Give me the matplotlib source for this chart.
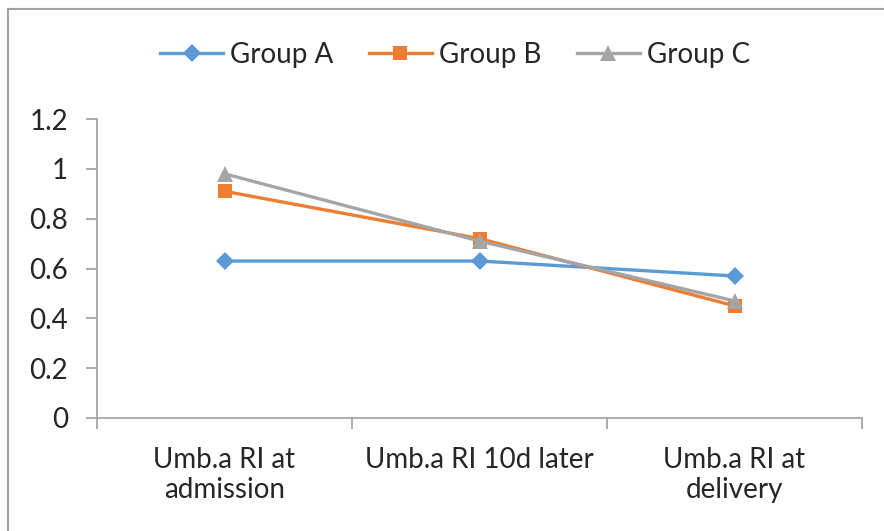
import matplotlib
matplotlib.use("Agg")
import matplotlib.pyplot as plt
from matplotlib.lines import Line2D

categories = ["Umb.a RI at\nadmission", "Umb.a RI 10d later", "Umb.a RI at\ndelivery"]
group_a = [0.63, 0.63, 0.57]
group_b = [0.91, 0.72, 0.45]
group_c = [0.98, 0.71, 0.47]
series_names = ["Group A", "Group B", "Group C"]
yticks = [0, 0.2, 0.4, 0.6, 0.8, 1, 1.2]
ytick_labels = ["0", "0.2", "0.4", "0.6", "0.8", "1", "1.2"]

plt.rcParams['font.family'] = ['Lato', 'DejaVu Sans']
FS = 20

W, H = 884, 531
fig = plt.figure(figsize=(W/100, H/100), dpi=100)
ax = fig.add_axes([97/W, 1-418/H, (862-97)/W, (418-119)/H])

x = list(range(1, len(categories)+1))
styles = [
    (group_a, "#5B9BD5", "D", 9),
    (group_b, "#ED7D31", "s", 10),
    (group_c, "#A5A5A5", "^", 11),
]
for (vals, col, m, ms), name in zip(styles, series_names):
    ax.plot(x, vals, color=col, lw=2.4, marker=m, markersize=ms,
            markeredgewidth=0, label=name)

ax.set_xlim(0.5, len(categories)+0.5)
ax.set_ylim(0, 1.2)
ax.set_yticks(yticks)
ax.set_yticklabels(ytick_labels)
ax.set_xticks([i+0.5 for i in range(0, len(categories)+1)])
ax.set_xticklabels([])
ax.set_xticks(x, minor=True)
ax.set_xticklabels(categories, minor=True)
ax.tick_params(axis='x', which='minor', length=0, pad=21, labelsize=FS, labelcolor='#262626')
ax.tick_params(axis='x', which='major', length=8, width=1.3, color='#A6A6A6')
ax.tick_params(axis='y', length=8, width=1.3, color='#A6A6A6', labelsize=FS, labelcolor='#262626', pad=13)
for t in ax.xaxis.get_minorticklabels():
    t.set_linespacing(1.2)
for s in ['top', 'right']:
    ax.spines[s].set_visible(False)
for s in ['left', 'bottom']:
    ax.spines[s].set_color('#A6A6A6')
    ax.spines[s].set_linewidth(1.3)

leg = fig.legend(loc='center', bbox_to_anchor=(455/W, 1-55/H), ncol=3, frameon=False,
                 fontsize=FS, handlelength=2.25, columnspacing=1.3, handletextpad=0.25)
for t in leg.get_texts():
    t.set_color('#262626')

# chart frame (top and left edges visible)
fig.add_artist(Line2D([8/W, 1], [1-8.5/H, 1-8.5/H], color='#A0A0A0', lw=1.5, transform=fig.transFigure))
fig.add_artist(Line2D([8/W, 8/W], [0, 1-8.5/H], color='#A0A0A0', lw=1.5, transform=fig.transFigure))

fig.savefig("out.png", dpi=100)
